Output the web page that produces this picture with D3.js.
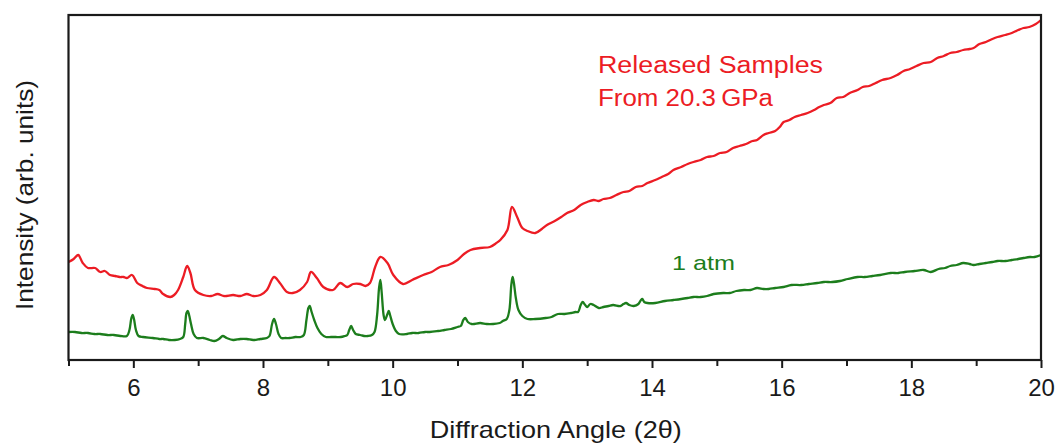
<!DOCTYPE html>
<html>
<head>
<meta charset="utf-8">
<script src="https://cdn.jsdelivr.net/npm/d3@7/dist/d3.min.js"></script>
<style>
  html, body { margin: 0; padding: 0; background: #fff; }
  svg { display: block; }
  text { font-family: "Liberation Sans", Arial, sans-serif; }
</style>
</head>
<body>
<svg id="chart" width="1058" height="448"></svg>
<script>
// ---- data ----
const majorTicks = [6, 8, 10, 12, 14, 16, 18, 20];
const minorTicks = [5, 7, 9, 11, 13, 15, 17, 19];

const releasedAngle = [5.00,5.08,5.15,5.22,5.30,5.41,5.49,5.56,5.64,5.72,5.79,5.85,5.90,5.98,6.06,6.14,6.21,6.33,6.40,6.46,6.57,6.63,6.69,6.77,6.83,6.88,6.95,7.08,7.20,7.30,7.40,7.54,7.65,7.75,7.85,7.96,8.06,8.17,8.26,8.37,8.46,8.57,8.68,8.74,8.83,8.93,9.08,9.19,9.30,9.39,9.50,9.58,9.65,9.73,9.81,9.92,10.01,10.16,10.30,10.47,10.60,10.73,10.86,11.00,11.10,11.20,11.35,11.50,11.60,11.66,11.77,11.84,11.92,12.00,12.08,12.20,12.30,12.38,12.50,12.60,12.69,12.80,12.90,13.00,13.10,13.18,13.25,13.35,13.45,13.56,13.65,13.75,13.85,13.93,14.05,14.15,14.25,14.33,14.45,14.55,14.64,14.75,14.85,14.95,15.05,15.15,15.25,15.35,15.45,15.55,15.62,15.72,15.80,15.90,15.97,16.03,16.12,16.20,16.30,16.40,16.50,16.58,16.65,16.75,16.85,16.95,17.05,17.17,17.25,17.35,17.45,17.55,17.68,17.78,17.88,17.98,18.08,18.19,18.30,18.40,18.50,18.60,18.70,18.80,18.90,18.96,19.05,19.15,19.25,19.33,19.45,19.55,19.65,19.73,19.82,19.92,20.00];
const releasedIntensity = [98,101,105,97,92,92,88,89,85,84,83,83,82,85,77,74,72,71,70,66,63,65,70,83,94,87,70,65,64,66,64,65,64,66,64,65,70,83,77,68,67,70,78,88,82,73,70,77,73,76,76,74,77,93,103,97,85,76,80,85,88,93,95,100,106,110,112,113,117,120,130,153,143,132,129,127,131,135,139,143,147,150,155,158,160,159,161,162,165,168,169,173,174,177,180,183,186,190,193,196,198,200,203,204,207,208,212,214,216,219,220,225,227,229,233,238,240,243,245,247,250,253,255,257,262,263,267,270,273,274,277,280,282,285,289,291,294,297,298,302,304,307,308,310,311,312,316,318,321,323,325,327,330,332,333,336,340];

const atmAngle = [
  5.00,5.10,5.20,5.30,5.40,5.49,5.60,5.70,5.80,5.90,
  5.94,5.97,5.99,6.01,6.04,6.08,6.15,6.30,6.40,6.46,
  6.55,6.64,6.72,6.77,6.80,6.82,6.84,6.86,6.89,6.93,
  6.98,7.08,7.18,7.25,7.32,7.38,7.44,7.54,7.65,7.75,
  7.85,7.96,8.06,8.10,8.14,8.17,8.20,8.24,8.28,8.35,
  8.41,8.50,8.58,8.63,8.67,8.70,8.72,8.75,8.79,8.84,
  8.90,8.97,9.05,9.12,9.20,9.26,9.30,9.33,9.36,9.39,
  9.43,9.50,9.56,9.62,9.68,9.72,9.76,9.79,9.81,9.83,
  9.86,9.88,9.92,9.94,9.96,10.00,10.05,10.10,10.22,10.30,
  10.40,10.50,10.57,10.70,10.80,10.90,11.00,11.05,11.09,11.12,
  11.16,11.22,11.35,11.45,11.55,11.65,11.70,11.76,11.80,11.83,
  11.85,11.87,11.90,11.94,12.00,12.08,12.20,12.36,12.45,12.55,
  12.65,12.75,12.82,12.86,12.90,12.93,12.97,13.00,13.05,13.10,
  13.18,13.25,13.33,13.40,13.51,13.56,13.60,13.65,13.72,13.79,
  13.83,13.85,13.88,13.93,14.05,14.20,14.33,14.45,14.55,14.64,
  14.75,14.85,14.95,15.10,15.20,15.30,15.42,15.52,15.62,15.72,
  15.80,15.90,16.03,16.15,16.30,16.42,16.55,16.65,16.78,16.90,
  17.02,17.17,17.28,17.40,17.52,17.68,17.80,17.90,18.05,18.19,
  18.30,18.42,18.52,18.60,18.70,18.80,18.90,18.96,19.05,19.15,
  19.25,19.33,19.45,19.55,19.65,19.73,19.83,19.90,20.00];
const atmIntensity = [
  28,28,27,27,26,26,25,25,24,24,
  30,42,45,41,30,24,23,22,21,21,
  20,20,21,23,36,47,49,45,36,26,
  22,22,20,19,21,24,22,20,21,21,
  20,21,22,24,36,41,36,26,22,22,
  22,23,23,25,40,52,54,48,40,32,
  26,23,23,23,23,24,25,30,34,30,
  26,25,24,24,25,28,45,72,80,68,
  45,40,46,49,45,36,29,26,26,27,
  27,28,28,29,30,31,33,34,40,42,
  38,36,37,36,36,37,39,41,50,75,
  83,77,62,50,44,41,41,42,43,46,
  46,47,48,48,55,58,55,53,56,55,
  52,53,54,55,54,56,57,55,54,56,
  60,61,58,57,57,59,60,61,62,63,
  63,64,66,67,67,69,70,70,72,71,
  71,72,73,75,75,76,77,78,78,79,
  81,83,83,84,85,87,87,88,89,90,
  88,91,92,94,95,97,96,95,96,97,
  98,99,99,100,101,102,103,103,105];

const releasedLabel = ["Released Samples", "From 20.3\u2009GPa"];
const atmLabel = "1 atm";
const xTitle = "Diffraction Angle (2\u03B8)";
const yTitle = "Intensity (arb. units)";

// ---- layout ----
const svg = d3.select("#chart");
const plotLeft = 68.5, plotRight = 1041, plotTop = 15, plotBottom = 360;

const x = d3.scaleLinear().domain([5, 20]).range([plotLeft, plotRight]);
const y = d3.scaleLinear().domain([0, 345]).range([plotBottom, plotTop]);

const redColor = "#ec1c24";
const greenColor = "#1c7d1c";

const line = d3.line().x(d => x(d[0])).y(d => y(d[1])).curve(d3.curveCatmullRom.alpha(0.5));

svg.append("path")
  .datum(releasedAngle.map((a, i) => [a, releasedIntensity[i]]))
  .attr("d", line).attr("fill", "none")
  .attr("stroke", redColor).attr("stroke-width", 2.3).attr("stroke-linejoin", "round");

svg.append("path")
  .datum(atmAngle.map((a, i) => [a, atmIntensity[i]]))
  .attr("d", line).attr("fill", "none")
  .attr("stroke", greenColor).attr("stroke-width", 2.3).attr("stroke-linejoin", "round");

// frame
svg.append("rect")
  .attr("x", plotLeft).attr("y", plotTop)
  .attr("width", plotRight - plotLeft).attr("height", plotBottom - plotTop)
  .attr("fill", "none").attr("stroke", "#1a1a1a").attr("stroke-width", 2.2);

// axes
const majorAxis = d3.axisBottom(x).tickValues(majorTicks).tickSize(8).tickPadding(11).tickFormat(d3.format("d"));
const gMajor = svg.append("g").attr("transform", `translate(0,${plotBottom})`).call(majorAxis);
gMajor.select(".domain").remove();
gMajor.selectAll("line").attr("stroke", "#1a1a1a").attr("stroke-width", 2);
gMajor.selectAll("text").attr("font-size", 24).attr("fill", "#1a1a1a")
  .style("font-family", "'Liberation Sans', Arial, sans-serif");

const minorAxis = d3.axisBottom(x).tickValues(minorTicks).tickSize(6).tickFormat("");
const gMinor = svg.append("g").attr("transform", `translate(0,${plotBottom})`).call(minorAxis);
gMinor.select(".domain").remove();
gMinor.selectAll("line").attr("stroke", "#1a1a1a").attr("stroke-width", 2);

// axis titles
svg.append("text")
  .attr("x", (plotLeft + plotRight) / 2 + 1).attr("y", 438)
  .attr("text-anchor", "middle").attr("font-size", 24).attr("fill", "#1a1a1a")
  .attr("textLength", 252).attr("lengthAdjust", "spacingAndGlyphs")
  .text(xTitle);

svg.append("text")
  .attr("transform", "translate(33,195) rotate(-90)")
  .attr("text-anchor", "middle").attr("font-size", 24).attr("fill", "#1a1a1a")
  .attr("textLength", 230).attr("lengthAdjust", "spacingAndGlyphs")
  .text(yTitle);

// annotations
svg.append("text")
  .attr("x", 598).attr("y", 73)
  .attr("font-size", 23).attr("fill", redColor)
  .attr("textLength", 225).attr("lengthAdjust", "spacingAndGlyphs")
  .text(releasedLabel[0]);
svg.append("text")
  .attr("x", 598).attr("y", 106)
  .attr("font-size", 23).attr("fill", redColor)
  .attr("textLength", 175).attr("lengthAdjust", "spacingAndGlyphs")
  .text(releasedLabel[1]);

svg.append("text")
  .attr("x", 672).attr("y", 270)
  .attr("font-size", 21).attr("fill", greenColor)
  .attr("textLength", 63).attr("lengthAdjust", "spacingAndGlyphs")
  .text(atmLabel);
</script>
</body>
</html>
